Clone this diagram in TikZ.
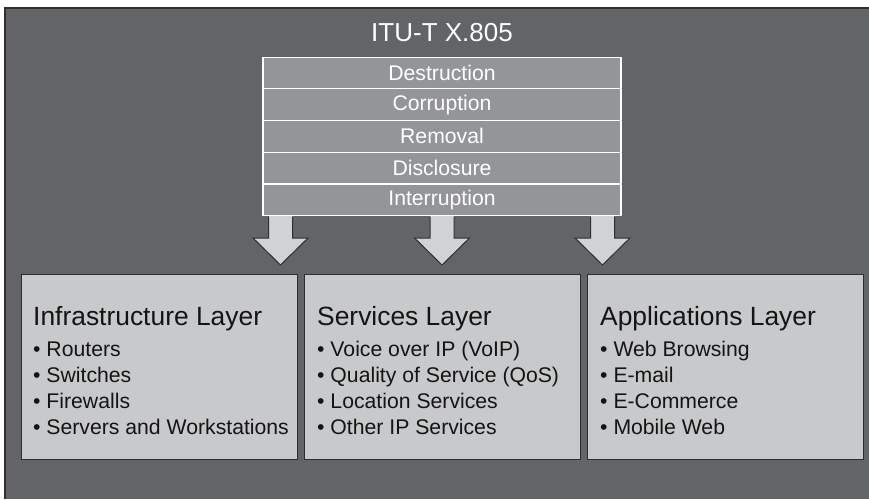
\documentclass[tikz,border=0pt]{standalone}
\usepackage{fontspec}
\setmainfont{Liberation Sans}
\usetikzlibrary{calc}
\begin{document}
\begin{tikzpicture}[x=1pt,y=-1pt,
  rowbox/.style={draw=white,line width=1.2pt,fill=stackc,minimum width=358pt,minimum height=31.7pt,inner sep=0pt,outer sep=0pt,text=white,font=\fontsize{21.2}{24}\selectfont},
  layerbox/.style={draw=boxline,line width=1.3pt,fill=boxc,anchor=north west,minimum width=276pt,minimum height=185pt,inner sep=0pt},
  heading/.style={anchor=base west,inner sep=0pt,font=\fontsize{26.4}{30}\selectfont,text=txt},
  item/.style={anchor=base west,inner sep=0pt,font=\fontsize{21.2}{24}\selectfont,text=txt}
]
\definecolor{bgc}{HTML}{636466}
\definecolor{stackc}{HTML}{939598}
\definecolor{boxc}{HTML}{C8C9CB}
\definecolor{arrc}{HTML}{D1D2D4}
\definecolor{boxline}{HTML}{2E2E30}
\definecolor{txt}{HTML}{141414}
\useasboundingbox (0,0) rectangle (869,499);
\fill[white] (0,0) rectangle (869,499);
\fill[bgc] (5,8) rectangle (869,499);
\draw[boxline,line width=1.6pt] (5,499) -- (5,8) -- (869,8);

% title
\node[anchor=base,inner sep=0pt,text=white,font=\fontsize{26}{30}\selectfont] (title) at (442,41) {ITU-T X.805};

% stack
\node[rowbox] (r1) at (442,73) {Destruction};
\node[rowbox,anchor=north] (r2) at (r1.south) {Corruption};
\node[rowbox,anchor=north] (r3) at (r2.south) {Removal};
\node[rowbox,anchor=north] (r4) at (r3.south) {Disclosure};
\node[rowbox,anchor=north] (r5) at (r4.south) {Interruption};

% layer boxes
\node[layerbox] (b1) at (20.5,274) {};
\node[layerbox] (b2) at (304,274) {};
\node[layerbox] (b3) at (587,274) {};

% arrows (connectors from stack to boxes)
\foreach \cx/\b in {280.5/b1,442/b2,602.5/b3}{
  \coordinate (s\b) at (\cx,216);
  \fill[arrc] ($(s\b)+(-12,0)$) -- ++(0,22) -- ++(-15.5,0) -- ($(s\b)+(0,49)$) -- ($(s\b)+(27.5,22)$) -- ++(-15.5,0) -- ++(0,-22) -- cycle;
  \draw[boxline,line width=1pt,line join=miter] ($(s\b)+(-12,0.6)$) -- ++(0,21.4) -- ++(-15.5,0) -- ($(s\b)+(0,49)$) -- ($(s\b)+(27.5,22)$) -- ++(-15.5,0) -- ++(0,-21.4);
}
\draw[white,line width=1.2pt] (r5.south west) -- (r5.south east);

% texts
\node[heading] (h1) at (33,325) {Infrastructure Layer};
\node[heading] (h2) at (317,325) {Services Layer};
\node[heading] (h3) at (600,325) {Applications Layer};

\foreach \t [count=\i] in {Routers,Switches,Firewalls,Servers and Workstations}
  \node[item] (i1\i) at (33,{356.7+25.8*(\i-1)}) {• \t};
\foreach \t [count=\i] in {Voice over IP (VoIP),Quality of Service (QoS),Location Services,Other IP Services}
  \node[item] (i2\i) at (317,{356.7+25.8*(\i-1)}) {• \t};
\foreach \t [count=\i] in {Web Browsing,E-mail,E-Commerce,Mobile Web}
  \node[item] (i3\i) at (600,{356.7+25.8*(\i-1)}) {• \t};
\end{tikzpicture}
\end{document}
